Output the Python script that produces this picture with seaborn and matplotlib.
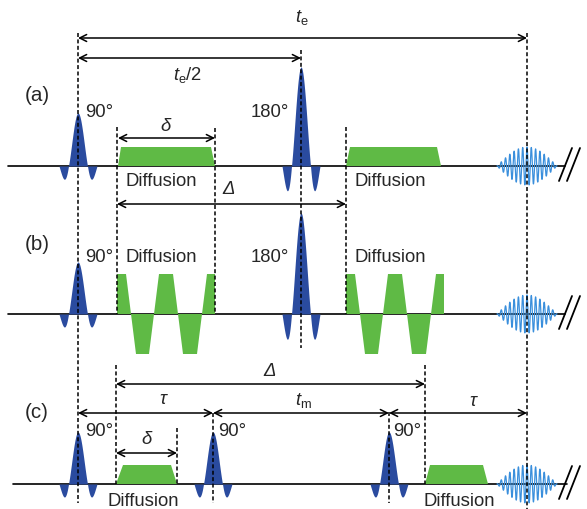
import numpy as np
import matplotlib.pyplot as plt
import seaborn as sns

# rows (a), (b), (c): baseline height in the drawing (pixels, y grows downwards)
row_labels = ["(a)", "(b)", "(c)"]
row_base = [166, 314, 484]
row_label_y = [95, 245, 413]
line_start = [8, 8, 13]
line_end = [565, 565, 567]

# rf pulses
pulse_row = [0, 0, 1, 1, 2, 2, 2]
pulse_x = [78, 301, 78, 301, 78, 213, 389]
pulse_amp = [53, 99, 52, 101, 52, 52, 52]
pulse_text = ["90°", "180°", "90°", "180°", "90°", "90°", "90°"]
pulse_text_x = [85, 289, 85, 289, 85, 218, 393]
pulse_text_y = [112, 112, 257, 257, 432, 432, 432]
pulse_text_ha = ["left", "right", "left", "right", "left", "left", "left"]

# single diffusion gradients: row, start, end, left ramp, right ramp, height
grad_row = [0, 0, 2, 2]
grad_start = [118, 346, 116, 425]
grad_end = [215, 441, 177, 488]
grad_ramp_l = [3, 4, 7, 5]
grad_ramp_r = [4, 4, 6, 5]
grad_height = [19, 19, 19, 19]

# bipolar gradient train in (b); second train is shifted by Delta
bip_edges = [117, 131, 154, 178, 202, 215]
bip_sign = [1, -1, 1, -1, 1]
bip_ramp = 5
bip_height = 40
bip_shift = 229

# echo
echo_x = 527
echo_halfwidth = 30
echo_amp = 19
echo_period = 4.3

# dashed guide lines: x, top, bottom
guide_x = [78, 301, 527, 117, 215, 346, 116, 425, 213, 389, 177]
guide_top = [33, 50, 33, 127, 128, 127, 365, 365, 413, 412, 428]
guide_bot = [503, 348, 509, 314, 314, 314, 484, 484, 503, 503, 484]

# double-headed arrows: x0, x1, y, label, label x, label y
arrow_x0 = [78, 78, 118, 117, 116, 78, 213, 389, 116]
arrow_x1 = [527, 301, 215, 346, 425, 213, 389, 527, 177]
arrow_y = [38, 58, 138, 204, 384, 413, 413, 413, 453]
arrow_label = ["$t_\\mathrm{e}$", "$t_\\mathrm{e}$/2", "δ", "Δ", "Δ",
               "τ", "$t_\\mathrm{m}$", "τ", "δ"]
arrow_label_x = [302, 188, 166, 229, 270, 163, 303, 473, 147]
arrow_label_y = [17, 75, 126, 190, 371, 400, 401, 401, 440]

# "Diffusion" captions
diff_x = [161, 390, 161, 390, 143, 459]
diff_y = [182, 182, 257, 257, 502, 502]

PULSE = "#2a4b9f"
GRAD = "#5fba45"
ECHO = "#3a8fdc"

sns.set_style("white")
plt.rcParams["font.family"] = ["Liberation Sans", "DejaVu Sans"]
plt.rcParams["mathtext.fontset"] = "custom"
plt.rcParams["mathtext.it"] = "Liberation Sans:italic"
plt.rcParams["mathtext.rm"] = "Liberation Sans"
FS = 13.3

fig = plt.figure(figsize=(5.87, 5.09), dpi=100)
ax = fig.add_axes([0, 0, 1, 1])
ax.set_xlim(0, 587)
ax.set_ylim(509, 0)
ax.axis("off")


def trapezoid(x0, x1, rl, rr, h):
    return [x0, x0 + rl, x1 - rr, x1], [0, h, h, 0]


# baselines and labels
for i, b in enumerate(row_base):
    ax.plot([line_start[i], line_end[i]], [b, b], color="black", lw=1.2, zorder=1)
    ax.text(37, row_label_y[i], row_labels[i], fontsize=FS + 1.5, ha="center", va="center")
    for off in [0, 8]:
        ax.plot([559 + off, 572 + off], [b + 15, b - 18], color="black", lw=1.3)

# rf pulses (sinc shaped)
u = np.linspace(-2, 2, 400)
for r, x, a, t, tx, ty, ha in zip(pulse_row, pulse_x, pulse_amp, pulse_text,
                                  pulse_text_x, pulse_text_y, pulse_text_ha):
    b = row_base[r]
    shape = np.sinc(u) * 1.15 ** (np.abs(u) > 1)
    ax.fill_between(x + 9.5 * u, b, b - a * shape, color=PULSE, lw=0, zorder=3)
    ax.text(tx, ty, t, fontsize=FS, ha=ha, va="center")

# diffusion gradients
for r, x0, x1, rl, rr, h in zip(grad_row, grad_start, grad_end, grad_ramp_l,
                                grad_ramp_r, grad_height):
    xs, ys = trapezoid(x0, x1, rl, rr, h)
    ax.fill(xs, [row_base[r] - y for y in ys], color=GRAD, lw=0, zorder=2)

for shift in [0, bip_shift]:
    n = len(bip_sign)
    for k in range(n):
        rl = 0 if k == 0 else bip_ramp
        rr = 0 if k == n - 1 else bip_ramp
        xs, ys = trapezoid(bip_edges[k] + shift, bip_edges[k + 1] + shift, rl, rr,
                           bip_height * bip_sign[k])
        ax.fill(xs, [row_base[1] - y for y in ys], color=GRAD, lw=0, zorder=2)

for x, y in zip(diff_x, diff_y):
    ax.text(x, y, "Diffusion", fontsize=FS, ha="center", va="center")

# echo
t = np.linspace(-echo_halfwidth, echo_halfwidth, 800)
env = echo_amp * np.cos(np.pi * t / (2 * echo_halfwidth))
sig = env * np.cos(2 * np.pi * t / echo_period)
for b in row_base:
    sns.lineplot(x=echo_x + t, y=b - sig, color=ECHO, lw=0.9, ax=ax, zorder=4,
                 sort=False)

# dashed guides
for x, y0, y1 in zip(guide_x, guide_top, guide_bot):
    ax.plot([x, x], [y0, y1], color="black", lw=1.1, ls=(0, (2.6, 1.6)), zorder=5)

# arrows
for x0, x1, y, lab, lx, ly in zip(arrow_x0, arrow_x1, arrow_y, arrow_label,
                                  arrow_label_x, arrow_label_y):
    ax.annotate("", xy=(x1, y), xytext=(x0, y),
                arrowprops=dict(arrowstyle="<->,head_length=0.5,head_width=0.25",
                                lw=1.1, color="black", shrinkA=0, shrinkB=0,
                                mutation_scale=10))
    style = "italic" if lab in ("δ", "Δ", "τ") else "normal"
    ax.text(lx, ly, lab, fontsize=FS, ha="center", va="center", style=style)

fig.savefig("out.png", dpi=100)
